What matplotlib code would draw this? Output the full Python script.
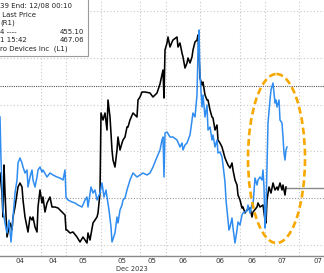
import numpy as np
import matplotlib
matplotlib.use("Agg")
import matplotlib.pyplot as plt
from matplotlib.patches import Ellipse, Rectangle

# time axis runs 0..324 (chart units) (0 = top of panel)
black_x = [0, 2, 3, 4, 5, 7, 10, 12, 13, 15, 18, 20, 22, 23, 25, 28, 30, 32, 33, 35, 37, 38, 40, 42, 43, 45,
           47, 50, 52, 55, 58, 62, 65, 66, 67, 70, 73, 77, 80, 83, 87, 88, 90, 93, 97, 98, 100, 101, 103, 105,
           107, 108, 110, 112, 113, 115, 117, 118, 120, 122, 123, 125, 127, 128, 130, 133, 137, 138, 140, 142,
           145, 150, 153, 157, 160, 162, 163, 164, 165, 167, 168, 170, 172, 173, 177, 178, 180, 182, 183, 185,
           187, 188, 190, 192, 193, 195, 197, 198, 200, 202, 203, 205, 207, 208, 210, 212, 213, 215, 217, 218,
           220, 222, 225, 228, 230, 232, 233, 235, 237, 238, 240, 242, 243, 245, 247, 250, 252, 253, 257, 258,
           260, 263, 265, 266, 267, 269, 271, 273, 275, 277, 278, 280, 282, 283, 285, 286]
black_y = [173, 193, 217, 165, 193, 237, 223, 230, 217, 207, 187, 183, 187, 200, 217, 232, 217, 220, 217, 227,
           232, 207, 190, 203, 197, 212, 203, 197, 207, 207, 208, 212, 215, 230, 230, 233, 232, 237, 242, 237,
           243, 233, 240, 223, 217, 213, 193, 113, 120, 113, 130, 100, 117, 150, 160, 167, 150, 137, 150, 143,
           140, 137, 127, 127, 120, 113, 117, 100, 97, 92, 92, 93, 97, 93, 84, 75, 70, 98, 50, 43, 37, 47, 42,
           40, 37, 47, 43, 53, 57, 68, 63, 58, 63, 57, 50, 42, 40, 35, 78, 85, 82, 95, 100, 100, 110, 117, 118,
           130, 125, 140, 143, 147, 158, 165, 168, 163, 170, 180, 185, 195, 200, 208, 207, 213, 210, 208, 217,
           212, 207, 203, 207, 205, 220, 223, 200, 187, 193, 183, 190, 187, 190, 183, 190, 185, 195, 187]

blue_x = [0, 1, 3, 5, 7, 9, 11, 13, 15, 17, 18, 20, 22, 23, 25, 27, 28, 30, 32, 33, 35, 37, 38, 40, 42, 43,
          47, 50, 53, 57, 60, 63, 65, 66, 68, 72, 75, 78, 82, 85, 87, 88, 91, 93, 95, 97, 100, 102, 104, 106,
          107, 109, 111, 112, 115, 117, 118, 120, 122, 123, 125, 127, 130, 133, 137, 140, 143, 147, 150, 153,
          157, 160, 162, 163, 164, 165, 167, 170, 173, 177, 180, 182, 183, 185, 187, 190, 192, 193, 195, 197,
          198, 199, 200, 202, 203, 205, 207, 208, 210, 212, 213, 215, 217, 218, 220, 222, 223, 225, 226, 227,
          228, 229, 230, 232, 233, 235, 237, 238, 240, 242, 243, 247, 248, 250, 252, 253, 255, 257, 258, 260,
          262, 263, 264, 265, 266, 267, 268, 270, 271, 273, 274, 275, 276, 277, 279, 280, 282, 283, 284, 285,
          286, 287]
blue_y = [117, 160, 210, 223, 233, 220, 242, 217, 193, 180, 163, 158, 163, 167, 173, 170, 187, 177, 170, 180,
          187, 177, 170, 167, 172, 170, 177, 173, 175, 177, 178, 180, 170, 197, 200, 202, 203, 205, 207, 200,
          197, 207, 187, 193, 190, 200, 193, 183, 197, 190, 197, 210, 227, 242, 233, 217, 223, 210, 205, 200,
          198, 190, 180, 173, 177, 175, 173, 175, 173, 167, 157, 150, 140, 137, 177, 133, 132, 137, 137, 140,
          147, 143, 150, 145, 143, 135, 120, 113, 117, 95, 50, 30, 75, 107, 95, 117, 105, 130, 127, 140, 135,
          147, 140, 153, 152, 157, 165, 182, 200, 210, 220, 230, 227, 218, 228, 243, 230, 222, 225, 215, 213,
          211, 205, 213, 204, 205, 178, 185, 180, 177, 180, 170, 187, 228, 210, 167, 123, 100, 90, 83, 93, 103,
          100, 107, 100, 120, 123, 137, 153, 160, 150, 147]

tick_pos = [20, 53, 83, 122, 152, 183, 220, 252, 282, 318]
tick_labels = ['04', '04', '05', '05', '05', '06', '06', '06', '07', '07']
vgrid = [41, 66, 101, 140, 166, 200, 240, 265, 299]
hgrid = [11, 58, 105, 151, 245]

legend_lines = ['39 End: 12/08 00:10', ' Last Price', '(R1)', '4 ----', '1 15:42', 'ro Devices Inc  (L1)']
legend_vals = ['', '', '', '455.10', '467.06', '']

fig = plt.figure(figsize=(3.24, 2.73), dpi=100)
ax = fig.add_axes([0, 17 / 273, 1, 256 / 273])
ax.set_xlim(0, 324)
ax.set_ylim(256, 0)

for s in ['top', 'left', 'right']:
    ax.spines[s].set_visible(False)
ax.spines['bottom'].set_color('#8a8a8a')
ax.spines['bottom'].set_linewidth(1.0)

ax.set_xticks(tick_pos)
ax.set_xticklabels(tick_labels)
ax.set_xticks(vgrid, minor=True)
ax.set_yticks(hgrid)
ax.tick_params(axis='x', which='both', length=0, pad=1.5, labelsize=5, labelcolor='#333333')
ax.tick_params(axis='y', which='both', length=0, labelleft=False)
ax.grid(False)
ax.grid(True, which='minor', axis='x', color='#c8c8c8', linestyle=(0, (1, 2)), linewidth=0.8)
ax.grid(True, which='major', axis='y', color='#c8c8c8', linestyle=(0, (1, 2)), linewidth=0.8)

ax.axhline(198, color='#9a9a9a', linestyle=(0, (1, 1.5)), linewidth=0.8, zorder=1)
ax.axhline(86, color='#555555', linestyle=(0, (1, 1)), linewidth=0.8, zorder=1)

ax.plot(black_x, black_y, color='black', linewidth=1.15, zorder=3)
ax.plot(blue_x, blue_y, color='#2f8cf0', linewidth=1.1, zorder=4)
ax.plot([black_x[-1], 324], [black_y[-1] + 1, black_y[-1] + 1], color='#8a8a8a', linewidth=1.0, zorder=2)

ell = Ellipse((276.5, 158.5), 57, 169, fill=False, edgecolor='#f6a800', linewidth=1.9,
              linestyle=(0, (2.6, 1.4)), zorder=6)
ax.add_patch(ell)

# legend box
box = Rectangle((-5, -5), 93, 61, facecolor='white', edgecolor='#9a9a9a', linewidth=0.8, zorder=7)
ax.add_patch(box)
for i, (t, v) in enumerate(zip(legend_lines, legend_vals)):
    yy = 6 + i * 8.6
    ax.text(0, yy, t, fontsize=5, color='#222222', va='center', ha='left', zorder=8)
    if v:
        ax.text(84, yy, v, fontsize=5, color='#222222', va='center', ha='right', zorder=8)

fig.text(132 / 324, 1 - 269 / 273, 'Dec 2023', fontsize=4.8, color='#333333', ha='center', va='center')

fig.savefig('out.png', dpi=100)
